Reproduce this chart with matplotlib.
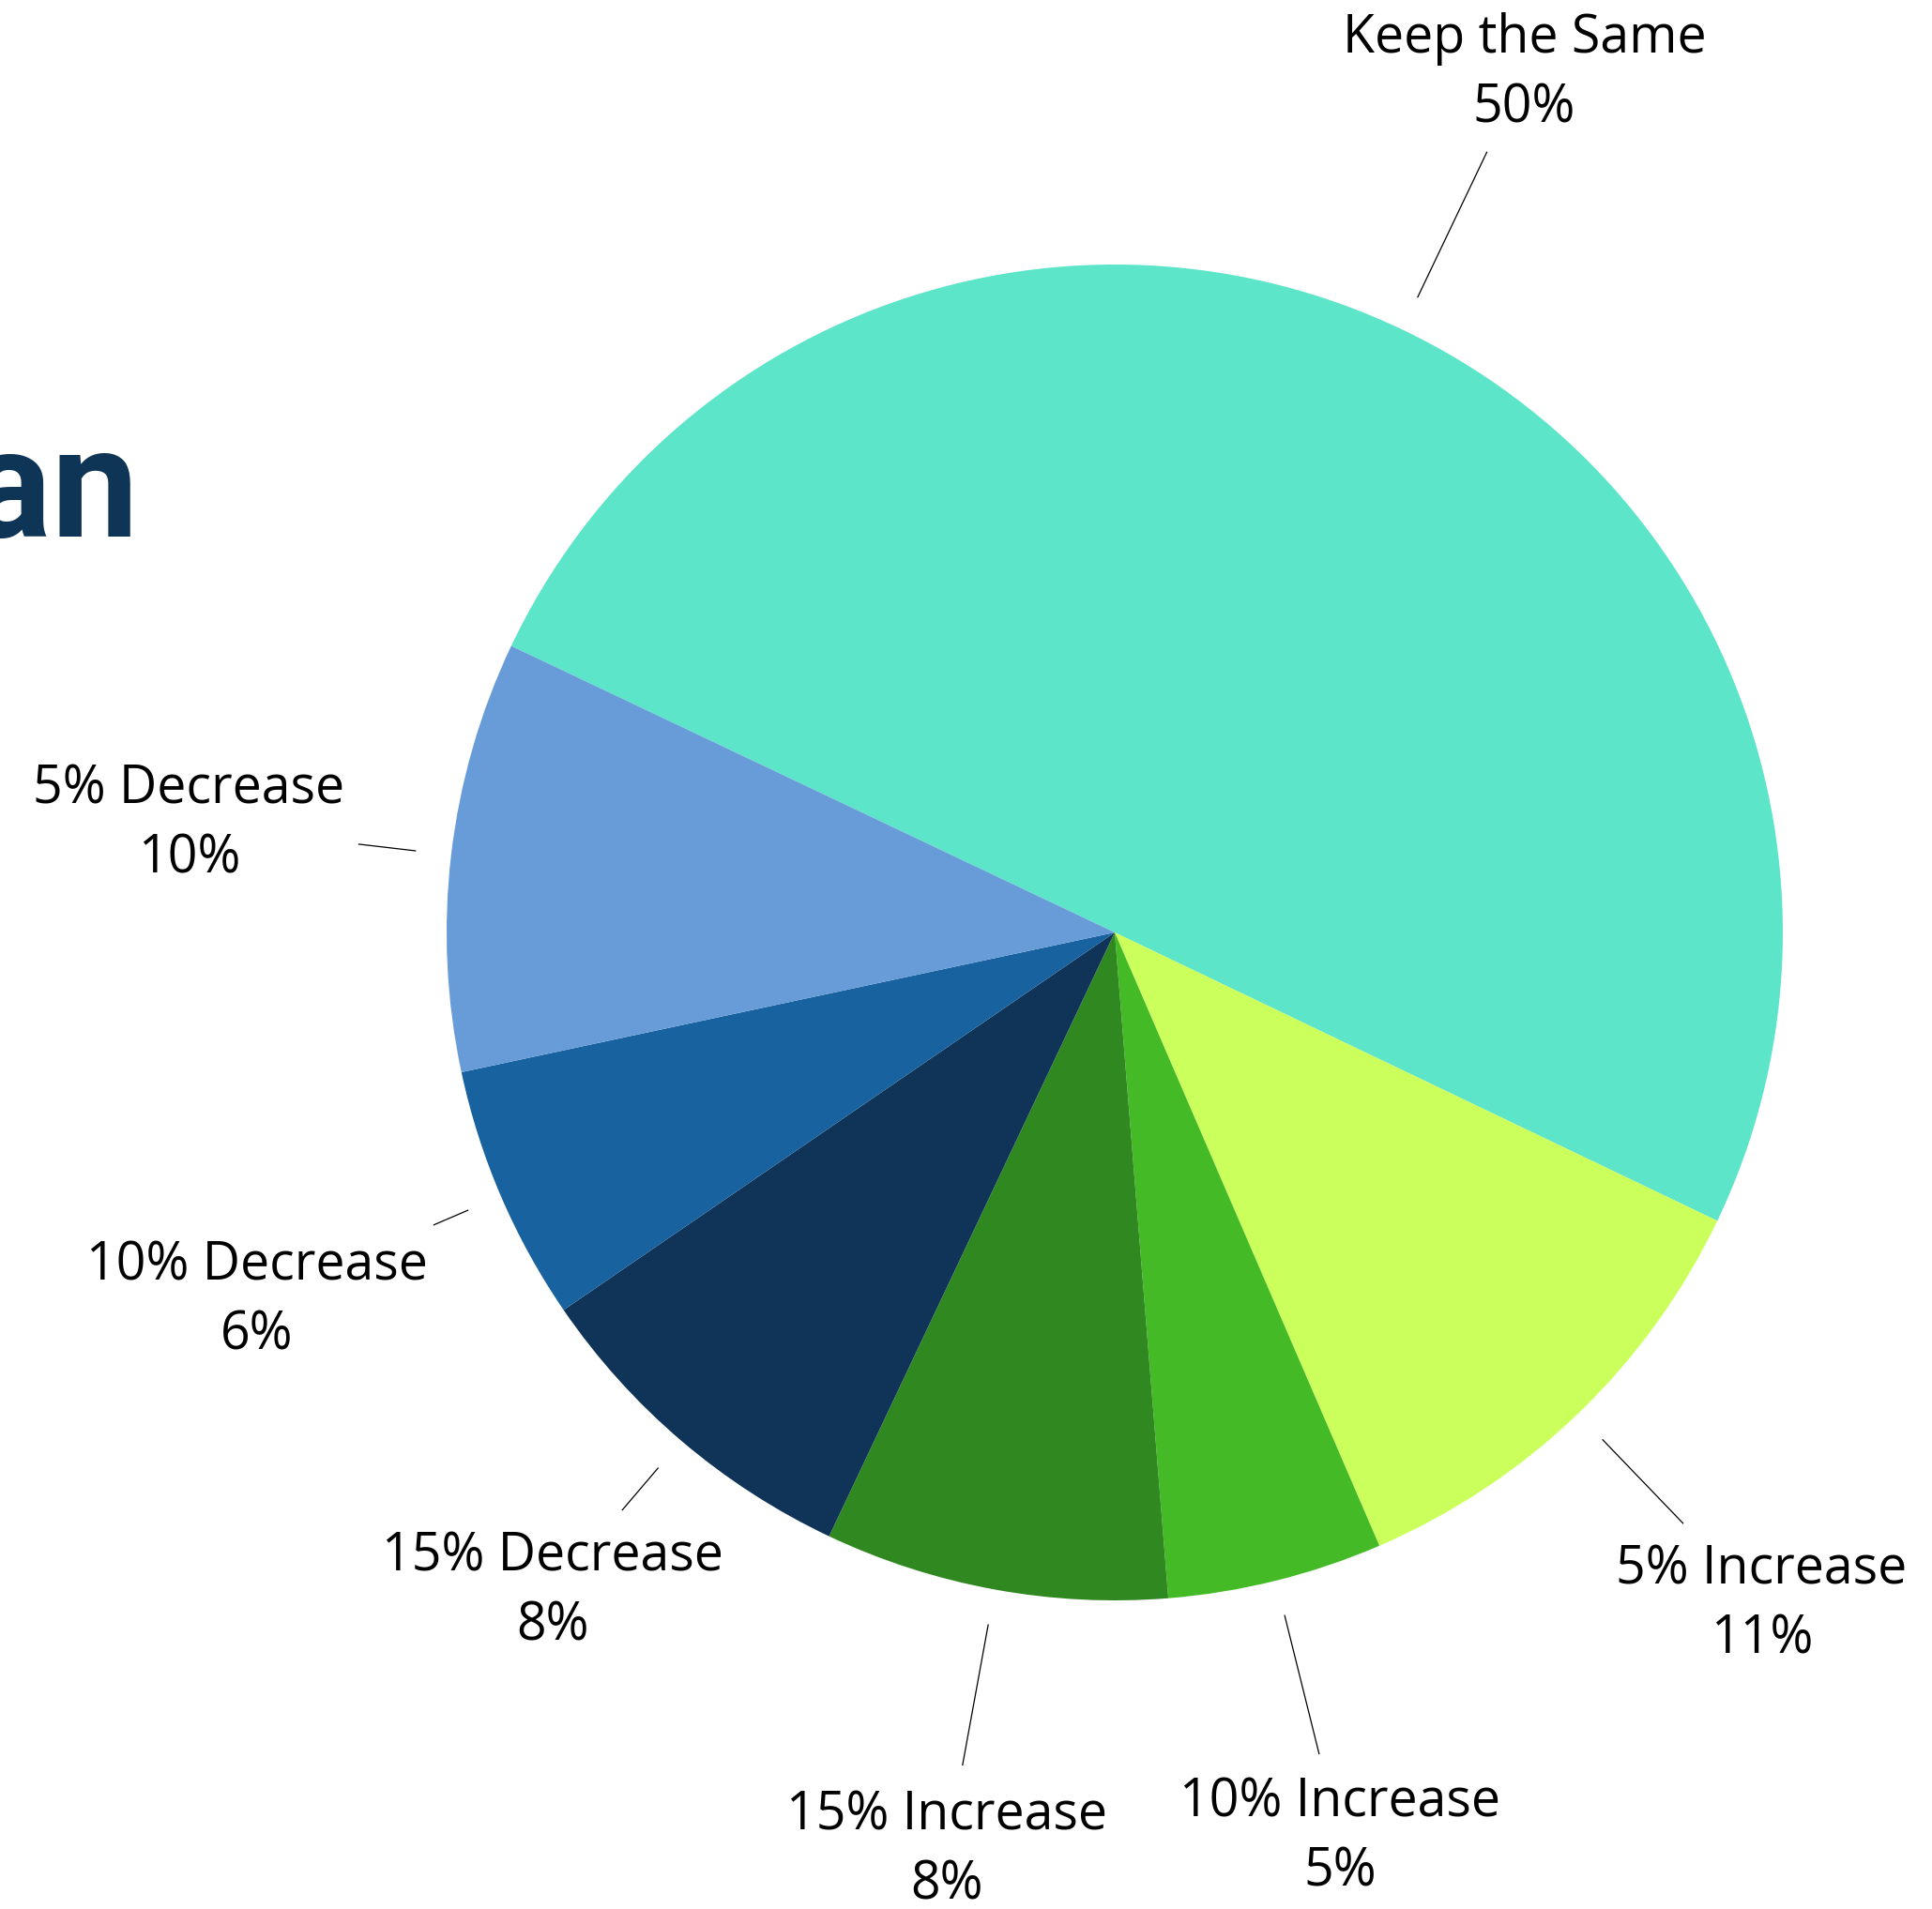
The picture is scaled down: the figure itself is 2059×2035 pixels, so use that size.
import numpy as np
import matplotlib.pyplot as plt

# slice data, clockwise from the top-left boundary
labels = ['Keep the Same', '5% Increase', '10% Increase', '15% Increase',
          '15% Decrease', '10% Decrease', '5% Decrease']
values = [50.0, 11.4, 5.2, 8.3, 8.4, 6.2, 10.4]
colors = ['#5ce5c9', '#cbff5b', '#44ba26', '#2f8920',
          '#0f3457', '#17629f', '#689cd9']

# label placement (in units of radius)
label_dist = [1.424, 1.397, 1.397, 1.398, 1.297, 1.397, 1.395]
line_end = [1.295, 1.228, 1.268, 1.268, 1.137, 1.11, 1.14]

W, H = 2059, 2035
fig = plt.figure(figsize=(W / 100, H / 100), dpi=100)
ax = fig.add_axes([0, 0, 1, 1])

cx, cy, r = 1188, 1041, 712

wedges, _ = ax.pie(values, colors=colors, startangle=154.6, counterclock=False,
                   center=(cx, cy), radius=r, frame=True,
                   wedgeprops={'linewidth': 0})
ax.set_xlim(0, W)
ax.set_ylim(0, H)
ax.axis('off')

total = sum(values)
for w, lab, v, ld, le in zip(wedges, labels, values, label_dist, line_end):
    ang = np.deg2rad((w.theta1 + w.theta2) / 2)
    c, s = np.cos(ang), np.sin(ang)
    ax.plot([cx + 1.053 * r * c, cx + le * r * c],
            [cy + 1.053 * r * s, cy + le * r * s],
            color='black', lw=0.9, solid_capstyle='butt')
    pct = v / total * 100
    ax.text(cx + ld * r * c, cy + ld * r * s, f'{lab}\n{pct:.0f}%',
            ha='center', va='center', fontsize=40, family='Open Sans',
            linespacing=1.39, color='black')

# title, mostly cut off by the left edge
ax.text(148, 1463, 'Plan', ha='right', va='baseline', fontsize=119,
        family='Roboto', fontweight='bold', color='#0e3456')

fig.savefig('out.png', dpi=100)
